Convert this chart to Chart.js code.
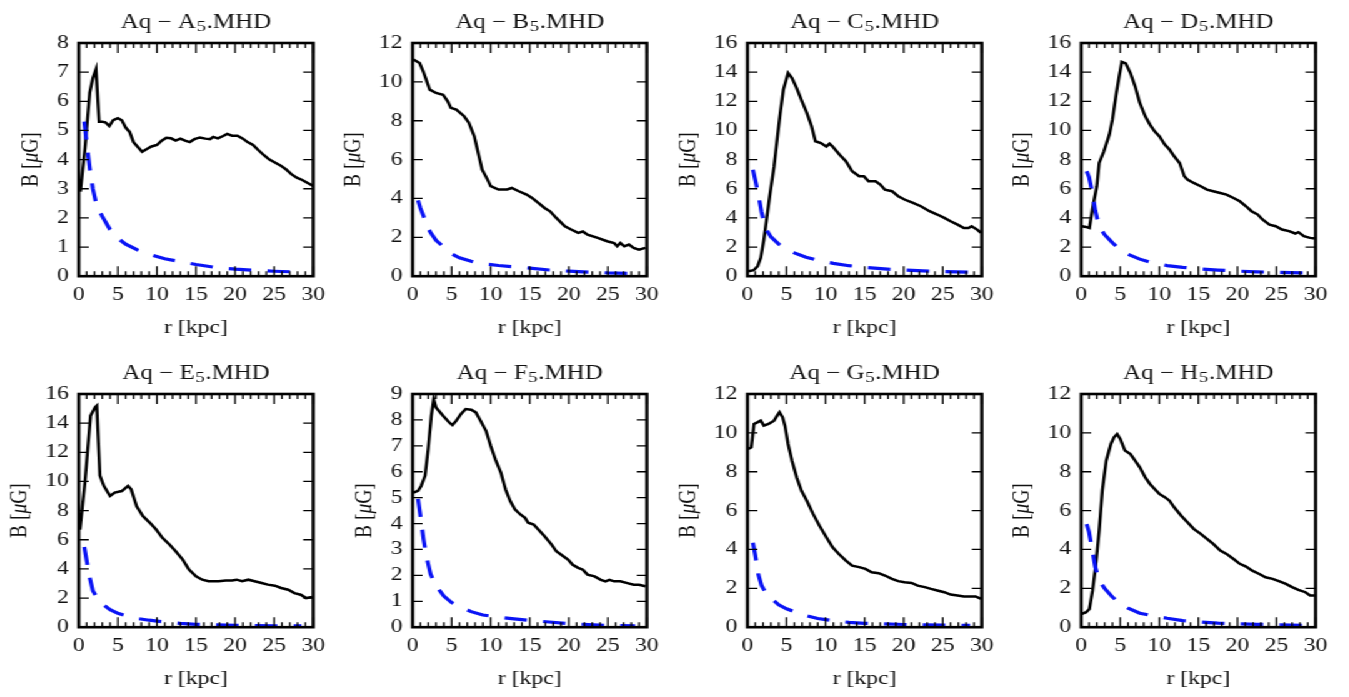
<!DOCTYPE html>
<html lang="en">
<head>
<meta charset="UTF-8">
<title>Aq MHD magnetic field profiles</title>
<script src="https://cdn.jsdelivr.net/npm/chart.js"></script>
<style>
  body { margin: 0; background: #fff; }
  /* the original figure is stretched horizontally, so draw narrow and widen */
  #page { position: relative; width: 1080px; height: 697px; transform: scaleX(1.25); transform-origin: 0 0; }
  .panel { position: absolute; }
</style>
</head>
<body>
<div id="page"></div>
<script>
const halos = ['A', 'B', 'C', 'D', 'E', 'F', 'G', 'H'];
const yMax = [8, 12, 16, 16, 16, 9, 12, 12];
const yStep = [1, 2, 2, 2, 2, 1, 2, 2];

// solid black curves: r [kpc] and B [muG]
const rA = [0.2, 0.8, 1.4, 1.8, 2.2, 2.6, 3.0, 3.4, 3.9, 4.4, 5.0, 5.5, 6.0, 6.5, 7.0, 7.5, 8.1, 8.6, 9.3, 10.0, 10.6, 11.2, 11.8, 12.4, 13.0, 13.6, 14.2, 14.8, 15.5, 16.2, 16.8, 17.2, 17.8, 18.4, 19.0, 19.6, 20.3, 21.0, 21.6, 22.3, 23.0, 23.7, 24.4, 25.1, 25.8, 26.5, 27.2, 27.9, 28.6, 29.3, 30.0];
const bA = [2.9, 4.4, 6.3, 6.8, 7.1, 5.3, 5.3, 5.28, 5.15, 5.35, 5.42, 5.35, 5.1, 4.95, 4.6, 4.45, 4.27, 4.35, 4.45, 4.5, 4.65, 4.75, 4.73, 4.65, 4.72, 4.65, 4.6, 4.7, 4.76, 4.72, 4.7, 4.78, 4.73, 4.8, 4.88, 4.82, 4.82, 4.72, 4.6, 4.5, 4.32, 4.15, 4.0, 3.9, 3.8, 3.67, 3.5, 3.38, 3.3, 3.2, 3.1];
const rB = [0.1, 0.9, 1.4, 2.2, 3.0, 3.9, 4.5, 4.9, 5.6, 6.6, 7.2, 7.9, 8.5, 8.9, 9.6, 10.0, 11.0, 12.1, 12.7, 13.6, 14.6, 15.3, 16.1, 16.9, 17.6, 18.4, 19.5, 20.3, 21.2, 21.8, 22.4, 23.7, 24.9, 25.8, 26.2, 26.6, 27.1, 27.7, 28.3, 29.0, 29.8];
const bB = [11.15, 10.97, 10.5, 9.6, 9.43, 9.34, 9.0, 8.66, 8.57, 8.23, 7.9, 7.2, 6.17, 5.49, 4.97, 4.63, 4.46, 4.46, 4.54, 4.37, 4.2, 4.03, 3.77, 3.51, 3.34, 3.0, 2.57, 2.4, 2.23, 2.3, 2.14, 1.97, 1.8, 1.71, 1.54, 1.71, 1.54, 1.63, 1.46, 1.37, 1.46];
const rC = [0.1, 0.8, 1.3, 1.7, 2.1, 2.5, 2.9, 3.4, 3.8, 4.2, 4.6, 5.2, 5.7, 6.3, 6.9, 7.6, 8.2, 8.7, 9.4, 10.1, 10.5, 10.9, 11.8, 12.6, 13.4, 14.3, 14.9, 15.5, 16.4, 17.0, 17.6, 18.5, 19.3, 20.1, 21.2, 22.2, 23.3, 24.3, 25.2, 26.0, 26.9, 27.7, 28.3, 28.7, 29.4, 29.9];
const bC = [0.34, 0.41, 0.69, 1.26, 2.5, 4.1, 5.7, 7.5, 9.4, 11.2, 12.8, 13.94, 13.6, 12.9, 12.1, 11.2, 10.3, 9.26, 9.14, 8.9, 9.1, 8.9, 8.34, 7.89, 7.2, 6.86, 6.86, 6.51, 6.51, 6.29, 5.94, 5.83, 5.49, 5.26, 5.03, 4.8, 4.46, 4.23, 4.0, 3.77, 3.54, 3.31, 3.31, 3.43, 3.2, 2.97];
const rD = [0.1, 0.6, 1.05, 1.5, 2.0, 2.3, 2.9, 3.6, 4.0, 4.5, 4.9, 5.2, 5.7, 6.3, 6.9, 7.5, 8.2, 8.8, 9.4, 10.0, 10.7, 11.3, 11.9, 12.6, 13.2, 13.6, 14.4, 15.3, 16.1, 16.9, 17.8, 18.6, 19.5, 20.3, 21.1, 21.8, 22.6, 23.2, 24.1, 24.9, 25.7, 26.6, 27.4, 27.8, 28.5, 29.3, 29.9];
const bD = [3.43, 3.38, 3.31, 4.8, 6.17, 7.77, 8.57, 9.71, 10.74, 12.57, 13.83, 14.7, 14.6, 13.94, 13.03, 11.89, 10.97, 10.4, 9.94, 9.6, 9.03, 8.69, 8.23, 7.77, 6.86, 6.63, 6.4, 6.17, 5.94, 5.83, 5.71, 5.6, 5.37, 5.14, 4.8, 4.46, 4.23, 3.89, 3.54, 3.43, 3.2, 3.09, 2.93, 3.02, 2.74, 2.63, 2.58];
const rE = [0.15, 0.8, 1.5, 2.1, 2.3, 2.7, 3.2, 4.0, 4.6, 5.5, 6.3, 6.7, 7.4, 8.2, 9.1, 9.9, 10.7, 11.6, 12.4, 13.3, 14.1, 15.0, 15.8, 16.6, 17.9, 18.8, 19.6, 20.2, 20.9, 21.7, 22.5, 23.4, 24.2, 25.1, 25.9, 26.8, 27.6, 28.4, 29.1, 29.9];
const bE = [6.7, 10.0, 14.5, 15.1, 15.2, 10.4, 9.7, 9.0, 9.23, 9.34, 9.69, 9.46, 8.3, 7.62, 7.16, 6.7, 6.13, 5.67, 5.21, 4.64, 3.95, 3.49, 3.26, 3.15, 3.15, 3.21, 3.21, 3.26, 3.15, 3.26, 3.15, 3.03, 2.92, 2.85, 2.69, 2.57, 2.34, 2.23, 2.0, 2.07];
const rF = [0.1, 0.7, 1.1, 1.6, 2.0, 2.4, 2.7, 3.0, 3.9, 4.7, 5.1, 5.6, 6.2, 6.8, 7.5, 8.1, 8.7, 9.4, 10.0, 10.6, 11.3, 11.9, 12.5, 13.1, 13.8, 14.4, 14.8, 15.5, 16.1, 16.9, 17.8, 18.4, 19.3, 19.9, 20.5, 21.2, 21.8, 22.4, 23.3, 24.1, 24.7, 25.2, 25.8, 26.6, 27.5, 28.3, 29.0, 29.8];
const bF = [5.19, 5.26, 5.45, 5.84, 6.87, 8.16, 8.8, 8.48, 8.16, 7.9, 7.8, 7.97, 8.23, 8.42, 8.39, 8.29, 7.97, 7.58, 7.0, 6.48, 5.97, 5.32, 4.87, 4.55, 4.35, 4.22, 4.03, 3.96, 3.77, 3.51, 3.19, 2.93, 2.74, 2.61, 2.41, 2.29, 2.22, 2.03, 1.96, 1.83, 1.77, 1.83, 1.77, 1.77, 1.7, 1.64, 1.64, 1.58];
const rG = [0.1, 0.5, 0.84, 1.26, 1.7, 2.1, 2.7, 3.4, 3.8, 4.1, 4.5, 4.8, 5.2, 5.7, 6.3, 6.9, 7.6, 8.4, 9.2, 10.1, 10.9, 11.7, 12.6, 13.4, 14.3, 15.1, 15.9, 16.8, 17.6, 18.5, 19.3, 20.1, 21.0, 21.8, 22.7, 23.5, 24.3, 25.2, 26.0, 26.9, 27.7, 28.5, 29.2, 29.9];
const bG = [9.17, 9.26, 10.46, 10.54, 10.63, 10.37, 10.46, 10.63, 10.89, 11.06, 10.8, 10.37, 9.43, 8.57, 7.71, 7.03, 6.51, 5.83, 5.23, 4.63, 4.11, 3.77, 3.43, 3.17, 3.09, 3.0, 2.83, 2.78, 2.66, 2.49, 2.37, 2.31, 2.28, 2.14, 2.06, 1.97, 1.89, 1.8, 1.68, 1.63, 1.58, 1.58, 1.58, 1.46];
const rH = [0.1, 0.63, 1.05, 1.46, 1.88, 2.3, 2.7, 3.2, 3.8, 4.2, 4.6, 5.0, 5.6, 6.3, 6.9, 7.5, 8.2, 8.8, 9.4, 10.0, 10.7, 11.3, 11.9, 12.8, 13.6, 14.4, 15.3, 16.1, 16.9, 17.8, 18.6, 19.5, 20.3, 21.1, 21.9, 22.8, 23.6, 24.5, 25.3, 26.2, 27.0, 27.8, 28.7, 29.3, 29.9];
const bH = [0.69, 0.77, 0.94, 1.89, 3.26, 4.97, 7.03, 8.57, 9.43, 9.77, 9.94, 9.69, 9.09, 8.91, 8.57, 8.23, 7.71, 7.37, 7.11, 6.86, 6.69, 6.51, 6.17, 5.74, 5.4, 5.06, 4.8, 4.54, 4.29, 3.94, 3.77, 3.51, 3.26, 3.12, 2.91, 2.74, 2.57, 2.49, 2.37, 2.23, 2.06, 1.92, 1.8, 1.63, 1.63];

// blue dashed curves, on a shared radius grid
const dashR = [0.7, 1.0, 1.4, 1.8, 2.3, 3.0, 4.0, 5.0, 6.0, 7.5, 9, 11, 13, 15, 17.5, 20, 22.5, 25, 28.5];
const dA = [5.3, 4.6, 3.7, 3.0, 2.4, 2.05, 1.6, 1.3, 1.1, 0.9, 0.75, 0.6, 0.5, 0.4, 0.3, 0.24, 0.2, 0.17, 0.14];
const dB = [3.9, 3.5, 3.1, 2.6, 2.25, 1.85, 1.5, 1.15, 0.95, 0.77, 0.64, 0.55, 0.48, 0.42, 0.32, 0.26, 0.21, 0.17, 0.14];
const dC = [7.3, 6.6, 5.6, 4.4, 3.3, 2.7, 2.2, 1.85, 1.6, 1.3, 1.1, 0.88, 0.72, 0.6, 0.5, 0.42, 0.36, 0.32, 0.27];
const dD = [7.2, 6.8, 5.8, 4.5, 3.4, 2.85, 2.3, 1.8, 1.5, 1.17, 0.93, 0.73, 0.61, 0.51, 0.42, 0.35, 0.3, 0.27, 0.23];
const dE = [5.5, 4.6, 3.4, 2.5, 2.05, 1.6, 1.2, 0.95, 0.8, 0.6, 0.48, 0.36, 0.26, 0.2, 0.16, 0.13, 0.11, 0.1, 0.09];
const dF = [4.95, 4.3, 3.4, 2.7, 2.05, 1.6, 1.2, 0.95, 0.8, 0.6, 0.47, 0.39, 0.32, 0.26, 0.2, 0.14, 0.1, 0.07, 0.05];
const dG = [4.35, 3.7, 2.7, 2.15, 1.8, 1.5, 1.15, 0.95, 0.8, 0.6, 0.45, 0.33, 0.25, 0.2, 0.17, 0.14, 0.12, 0.11, 0.09];
const dH = [5.3, 4.9, 4.0, 3.1, 2.4, 2.0, 1.55, 1.22, 0.98, 0.72, 0.6, 0.46, 0.34, 0.27, 0.21, 0.17, 0.15, 0.12, 0.09];

const solidR = [rA, rB, rC, rD, rE, rF, rG, rH];
const solidB = [bA, bB, bC, bD, bE, bF, bG, bH];
const dashB = [dA, dB, dC, dD, dE, dF, dG, dH];

// layout (in unstretched px)
const plotW = 190.4, plotH = 233.2;
const padL = 62, padT = 43;
const canvasW = 266, canvasH = 338;
const colLeft = [62.64, 330.24, 597.84, 865.44];
const rowTop = [43.3, 394.3];

const FAMILY = '"Liberation Serif", "Times New Roman", serif';
const textColor = '#111';
const tickSize = 19;

function toXY(xs, ys) {
  return xs.map((x, k) => ({ x: x, y: ys[k] }));
}

const framePlugin = {
  id: 'frame',
  afterDraw(chart, args, opts) {
    const ctx = chart.ctx;
    const a = chart.chartArea;
    const x = chart.scales.x, y = chart.scales.y;
    ctx.save();
    ctx.strokeStyle = '#000';

    // inward ticks
    ctx.lineWidth = 1.3;
    ctx.beginPath();
    for (let v = 0; v <= 30; v++) {
      const px = x.getPixelForValue(v);
      const len = v % 5 === 0 ? 10 : 5;
      ctx.moveTo(px, a.bottom); ctx.lineTo(px, a.bottom - len);
      ctx.moveTo(px, a.top); ctx.lineTo(px, a.top + len);
    }
    y.ticks.forEach(t => {
      const py = y.getPixelForValue(t.value);
      ctx.moveTo(a.left, py); ctx.lineTo(a.left + 8, py);
      ctx.moveTo(a.right, py); ctx.lineTo(a.right - 8, py);
    });
    ctx.stroke();

    ctx.lineWidth = 2.6;
    ctx.strokeRect(a.left, a.top, a.right - a.left, a.bottom - a.top);

    ctx.fillStyle = textColor;
    const cx = (a.left + a.right) / 2;
    const cy = (a.top + a.bottom) / 2;

    // title: Aq − X5.MHD with subscript 5
    const big = '20px ' + FAMILY, small = '15px ' + FAMILY;
    const p1 = 'Aq \u2212 ' + opts.name, p2 = '5', p3 = '.MHD';
    ctx.font = big;
    const w1 = ctx.measureText(p1).width, w3 = ctx.measureText(p3).width;
    ctx.font = small;
    const w2 = ctx.measureText(p2).width;
    let x0 = cx - (w1 + w2 + w3 + 1) / 2;
    const base = a.top - 21.3 + 6.6;
    ctx.textAlign = 'left';
    ctx.textBaseline = 'alphabetic';
    ctx.font = big; ctx.fillText(p1, x0, base);
    ctx.font = small; ctx.fillText(p2, x0 + w1 + 0.5, base + 3);
    ctx.font = big; ctx.fillText(p3, x0 + w1 + w2 + 1, base);

    // x title
    ctx.font = tickSize + 'px ' + FAMILY;
    ctx.textAlign = 'center';
    ctx.textBaseline = 'middle';
    ctx.fillText('r [kpc]', cx, a.bottom + 52);

    // y title, placed left of the widest tick label
    let maxW = 0;
    y.ticks.forEach(t => { maxW = Math.max(maxW, ctx.measureText(String(t.value)).width); });
    const tx = a.left - 8 - maxW - 20.5;
    const n = '19.5px ' + FAMILY, it = 'italic 19.5px ' + FAMILY;
    const s1 = 'B [', s2 = '\u03bc', s3 = 'G]';
    ctx.font = n; const u1 = ctx.measureText(s1).width, u3 = ctx.measureText(s3).width;
    ctx.font = it; const u2 = ctx.measureText(s2).width;
    ctx.translate(tx, cy);
    ctx.rotate(-Math.PI / 2);
    ctx.textAlign = 'left';
    let sx = -(u1 + u2 + u3) / 2;
    ctx.font = n; ctx.fillText(s1, sx, 0);
    ctx.font = it; ctx.fillText(s2, sx + u1, 0);
    ctx.font = n; ctx.fillText(s3, sx + u1 + u2, 0);
    ctx.restore();
  }
};

const page = document.getElementById('page');

halos.forEach((h, i) => {
  const col = i % 4, row = Math.floor(i / 4);
  const div = document.createElement('div');
  div.className = 'panel';
  div.style.left = (colLeft[col] - padL) + 'px';
  div.style.top = (rowTop[row] - padT) + 'px';
  const canvas = document.createElement('canvas');
  canvas.width = canvasW;
  canvas.height = canvasH;
  canvas.style.width = canvasW + 'px';
  canvas.style.height = canvasH + 'px';
  div.appendChild(canvas);
  page.appendChild(div);

  new Chart(canvas, {
    type: 'line',
    data: {
      datasets: [
        {
          data: toXY(dashR, dashB[i]),
          borderColor: 'rgb(10, 20, 245)',
          borderWidth: 3.2,
          borderDash: [18, 13],
          pointRadius: 0,
          tension: 0
        },
        {
          data: toXY(solidR[i], solidB[i]),
          borderColor: '#000',
          borderWidth: 2.5,
          pointRadius: 0,
          tension: 0
        }
      ]
    },
    options: {
      responsive: false,
      animation: false,
      events: [],
      layout: { padding: { left: 0, top: padT, right: canvasW - padL - plotW, bottom: 0 } },
      plugins: {
        legend: { display: false },
        tooltip: { enabled: false },
        frame: { name: h }
      },
      scales: {
        x: {
          type: 'linear',
          min: 0,
          max: 30,
          grid: { display: false, drawTicks: false },
          border: { display: false },
          ticks: { stepSize: 5, padding: 7, autoSkip: false, maxRotation: 0, color: textColor, font: { family: FAMILY, size: tickSize } },
          afterFit: s => { s.height = canvasH - padT - plotH; }
        },
        y: {
          type: 'linear',
          min: 0,
          max: yMax[i],
          grid: { display: false, drawTicks: false },
          border: { display: false },
          ticks: { stepSize: yStep[i], padding: 8, autoSkip: false, color: textColor, font: { family: FAMILY, size: tickSize } },
          afterFit: s => { s.width = padL; }
        }
      }
    },
    plugins: [framePlugin]
  });
});
</script>
</body>
</html>
